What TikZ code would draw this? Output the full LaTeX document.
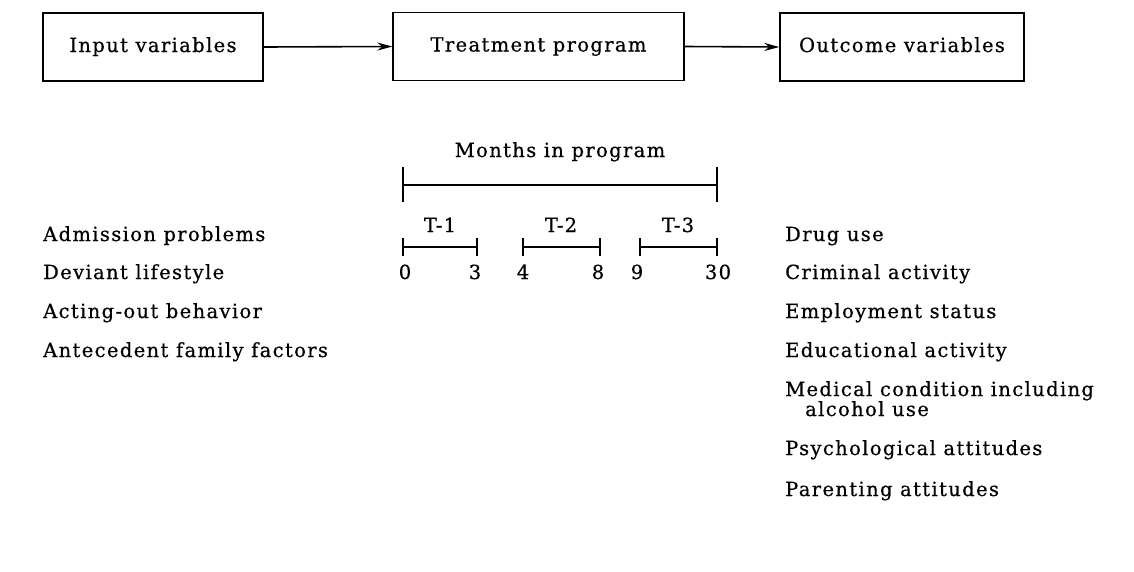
\documentclass[tikz,border=0pt]{standalone}
\usepackage{fontspec}
\setmainfont{DejaVu Serif}[LetterSpace=7,FakeBold=0.6]
\usetikzlibrary{arrows.meta}
\begin{document}
\begin{tikzpicture}[x=1pt,y=-1pt,
  every node/.style={font=\fontsize{19.5}{22}\selectfont, inner sep=0pt},
  box/.style={draw, line width=1.4pt, minimum height=68pt, text height=14pt, text depth=4pt},
  flow/.style={line width=1.6pt, -{Stealth[length=15pt,width=8pt]}},
  bar/.style={line width=1.2pt},
  lbl/.style={anchor=base west},
  num/.style={anchor=base}]
\useasboundingbox (0,0) rectangle (1134,571);
% top boxes
\node[box, minimum width=220pt] (inp) at (153,47) {Input variables};
\node[box, minimum width=291pt] (trt) at (538.5,46.5) {Treatment program};
\node[box, minimum width=244pt] (out) at (902,47) {Outcome variables};
\draw[flow] (inp.east) -- (trt.west);
\draw[flow] (trt.east) -- (out.west);
% months timeline
\node[anchor=base] (months) at (560,157) {Months in program};
\coordinate (m0) at (403,185);
\coordinate (m1) at (717,185);
\draw[bar] (m0) -- (m1);
\draw[bar] ([yshift=-17pt]m0) -- ([yshift=18pt]m0);
\draw[bar] ([yshift=-17pt]m1) -- ([yshift=18pt]m1);
% T periods
\coordinate (a0) at (403,247); \coordinate (a1) at (477,247);
\coordinate (b0) at (523,247); \coordinate (b1) at (600,247);
\coordinate (c0) at (640,247); \coordinate (c1) at (717,247);
\foreach \p/\q in {a0/a1,b0/b1,c0/c1}{
  \draw[bar] (\p) -- (\q);
  \draw[bar] ([yshift=-9pt]\p) -- ([yshift=9pt]\p);
  \draw[bar] ([yshift=-9pt]\q) -- ([yshift=9pt]\q);
}
\node[num] (t1) at (440,232) {T-1};
\node[num] (t2) at (561,232) {T-2};
\node[num] (t3) at (678,232) {T-3};
\node[num] (n0) at (405,279) {0};
\node[num] (n3) at (475,279) {3};
\node[num] (n4) at (523,279) {4};
\node[num] (n8) at (598,279) {8};
\node[num] (n9) at (637,279) {9};
\node[num] (n30) at (718,279) {30};
% input variables
\node[lbl] (i1) at (43,241) {Admission problems};
\node[lbl] (i2) at (43,279) {Deviant lifestyle};
\node[lbl] (i3) at (43,318) {Acting-out behavior};
\node[lbl] (i4) at (43,357) {Antecedent family factors};
% outcome variables
\node[lbl] (o1) at (785,241) {Drug use};
\node[lbl] (o2) at (785,279) {Criminal activity};
\node[lbl] (o3) at (785,318) {Employment status};
\node[lbl] (o4) at (785,357) {Educational activity};
\node[lbl] (o5) at (785,396) {Medical condition including};
\node[lbl] (o5b) at (805,416) {alcohol use};
\node[lbl] (o6) at (785,455) {Psychological attitudes};
\node[lbl] (o7) at (785,496) {Parenting attitudes};
\end{tikzpicture}
\end{document}
